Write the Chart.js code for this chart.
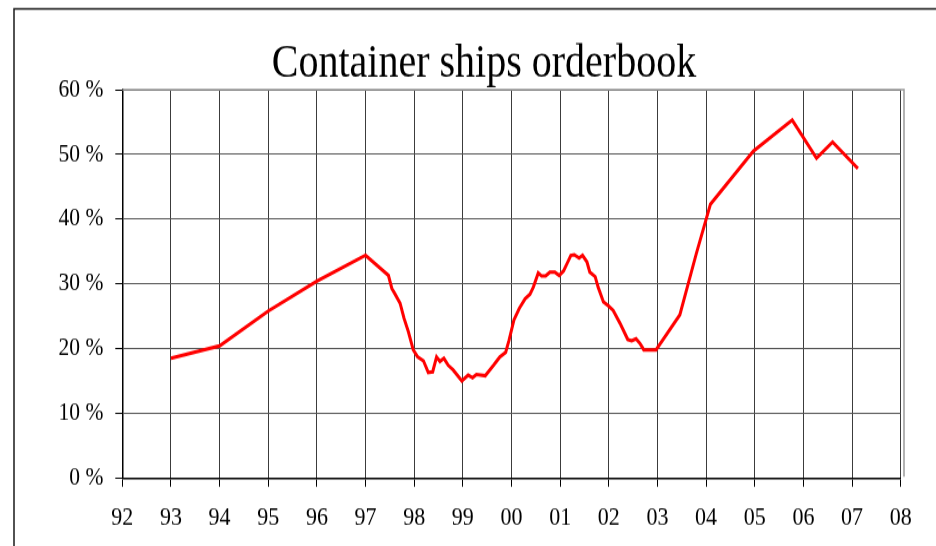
<!DOCTYPE html>
<html>
<head>
<meta charset="utf-8">
<script src="https://cdn.jsdelivr.net/npm/chart.js@4.4.1/dist/chart.umd.min.js"></script>
<style>
  html, body { margin: 0; padding: 0; background: #fff; }
  #orderbook { display: block; }
</style>
</head>
<body>
<!-- drawn at 936x463 and shown stretched to 546 tall, like the original tall-looking print -->
<canvas id="orderbook" width="936" height="463" style="width:936px;height:546px"></canvas>
<script>
// container ships orderbook, % of fleet

const xTickLabels = ['92', '93', '94', '95', '96', '97', '98', '99', '00', '01', '02', '03', '04', '05', '06', '07', '08'];

const years = [1993, 1994, 1995, 1996, 1997,
    1997.47, 1997.54, 1997.6, 1997.71, 1997.79, 1997.88, 1997.98,
    1998.07, 1998.19, 1998.29, 1998.38, 1998.46, 1998.53, 1998.61, 1998.7, 1998.8, 1998.98,
    1999.11, 1999.2, 1999.28, 1999.46, 1999.63, 1999.76, 1999.88, 1999.95,
    2000.05, 2000.16, 2000.28, 2000.38, 2000.45, 2000.55, 2000.62, 2000.7, 2000.79, 2000.89, 2000.98,
    2001.07, 2001.14, 2001.22, 2001.29, 2001.39, 2001.46, 2001.55, 2001.61, 2001.72, 2001.78, 2001.89, 2001.99,
    2002.09, 2002.23, 2002.39, 2002.47, 2002.56, 2002.64, 2002.72, 2002.97,
    2003.46, 2003.8, 2004.09, 2004.97, 2005.77, 2006.27, 2006.6, 2007.12];

const orderbook = [18.5, 20.4, 25.8, 30.4, 34.4,
    31.3, 29.3, 28.5, 27.0, 24.7, 22.6, 19.8,
    18.7, 18.1, 16.3, 16.4, 18.7, 18.0, 18.5, 17.4, 16.7, 15.0,
    15.9, 15.5, 16.0, 15.8, 17.4, 18.7, 19.4, 21.3,
    24.4, 26.2, 27.7, 28.4, 29.5, 31.7, 31.2, 31.2, 31.8, 31.8, 31.3,
    32.0, 33.1, 34.4, 34.5, 34.0, 34.4, 33.4, 31.8, 31.1, 29.5, 27.2, 26.6,
    25.9, 23.9, 21.4, 21.2, 21.5, 20.8, 19.8, 19.8,
    25.2, 34.7, 42.3, 50.5, 55.3, 49.4, 51.9, 47.8];

const serif = '"Liberation Serif", "Times New Roman", "DejaVu Serif", serif';

// outer frame (left + top) and the grey edge round the plot
const framePlugin = {
    id: 'frame',
    afterLayout(chart) {
        // title sits a bit right of the page centre in the original
        if (chart.titleBlock) {
            chart.titleBlock.left += 13.6;
            chart.titleBlock.right += 13.6;
        }
    },
    beforeDraw(chart) {
        const c = chart.ctx;
        c.save();
        c.fillStyle = '#fff';
        c.fillRect(0, 0, chart.width, chart.height);
        c.strokeStyle = '#1a1a1a';
        c.lineWidth = 1.5;
        c.beginPath();
        c.moveTo(14, chart.height);
        c.lineTo(14, 7.6);
        c.lineTo(chart.width, 7.6);
        c.stroke();
        c.restore();
    },
    beforeDatasetsDraw(chart) {
        const c = chart.ctx;
        const a = chart.chartArea;
        c.save();
        c.strokeStyle = '#9a9a9a';
        c.lineWidth = 1.5;
        c.beginPath();
        c.moveTo(a.left, a.top);
        c.lineTo(a.right + 3.3, a.top);
        c.lineTo(a.right + 3.3, a.bottom - 1);
        c.stroke();
        c.restore();
    }
};

const ctx = document.getElementById('orderbook').getContext('2d');
const chart = new Chart(ctx, {
    type: 'line',
    data: {
        datasets: [{
            label: 'Orderbook',
            data: years.map((x, i) => ({ x: x, y: orderbook[i] })),
            borderColor: '#ff0000',
            borderWidth: 3,
            pointRadius: 0,
            tension: 0,
            fill: false
        }]
    },
    options: {
        responsive: false,
        animation: false,
        devicePixelRatio: 1,
        layout: { padding: { left: 40, right: 35.3, top: 0, bottom: 0 } },
        plugins: {
            legend: { display: false },
            tooltip: { enabled: false },
            title: {
                display: true,
                text: 'Container ships orderbook',
                color: '#000',
                font: { family: serif, size: 40, weight: 'normal', lineHeight: 1.1 },
                padding: { top: 32, bottom: 0 }
            }
        },
        scales: {
            x: {
                type: 'linear',
                min: 1992,
                max: 2008,
                afterFit: (s) => { s.height = 57.7; },
                ticks: {
                    stepSize: 1,
                    color: '#000',
                    padding: 13.2,
                    maxRotation: 0,
                    autoSkip: false,
                    font: { family: serif, size: 22 },
                    callback: (v) => xTickLabels[Math.round(v) - 1992]
                },
                grid: { color: '#3c3c3c', lineWidth: 1, tickLength: 7.4, tickColor: '#000' },
                border: { color: '#000', width: 1.5 }
            },
            y: {
                min: 0,
                max: 60,
                afterFit: (s) => { s.width = 82.3; },
                ticks: {
                    stepSize: 10,
                    color: '#000',
                    padding: 12,
                    font: { family: serif, size: 21.5 },
                    callback: (v) => v + ' %'
                },
                grid: { color: '#555', lineWidth: 1, tickLength: 7, tickColor: '#000' },
                border: { color: '#000', width: 1.5 }
            }
        }
    },
    plugins: [framePlugin]
});
</script>
</body>
</html>
